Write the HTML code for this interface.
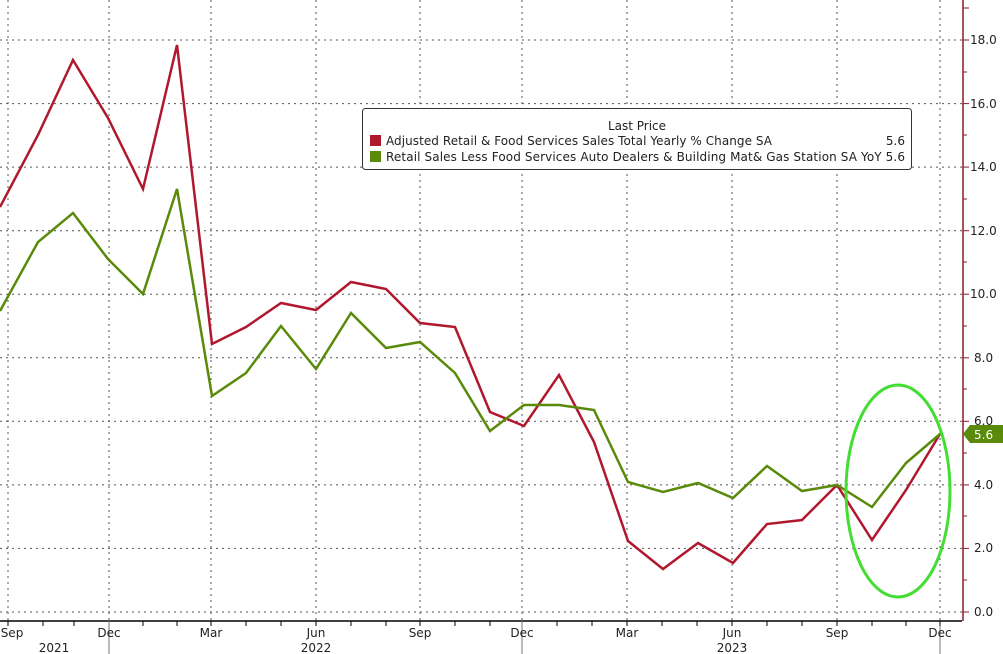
<!DOCTYPE html>
<html><head><style>
body{margin:0;background:#fff;}
svg{display:block;font-family:"DejaVu Sans","Liberation Sans",sans-serif;}
</style></head><body>
<svg width="1003" height="654" viewBox="0 0 1003 654" xmlns="http://www.w3.org/2000/svg">
<rect width="1003" height="654" fill="#fff"/>
<g stroke="#555" stroke-width="1" stroke-dasharray="2,4">
<line x1="0" x2="962" y1="612" y2="612"/>
<line x1="0" x2="962" y1="548.4" y2="548.4"/>
<line x1="0" x2="962" y1="484.9" y2="484.9"/>
<line x1="0" x2="962" y1="421.3" y2="421.3"/>
<line x1="0" x2="962" y1="357.8" y2="357.8"/>
<line x1="0" x2="962" y1="294.2" y2="294.2"/>
<line x1="0" x2="962" y1="230.7" y2="230.7"/>
<line x1="0" x2="962" y1="167.1" y2="167.1"/>
<line x1="0" x2="962" y1="103.6" y2="103.6"/>
<line x1="0" x2="962" y1="40" y2="40"/>
<line x1="8" x2="8" y1="0" y2="621"/>
<line x1="109" x2="109" y1="0" y2="621"/>
<line x1="211" x2="211" y1="0" y2="621"/>
<line x1="316" x2="316" y1="0" y2="621"/>
<line x1="420" x2="420" y1="0" y2="621"/>
<line x1="522" x2="522" y1="0" y2="621"/>
<line x1="627" x2="627" y1="0" y2="621"/>
<line x1="732" x2="732" y1="0" y2="621"/>
<line x1="837" x2="837" y1="0" y2="621"/>
<line x1="940" x2="940" y1="0" y2="621"/>
</g>
<line x1="0" x2="962" y1="621" y2="621" stroke="#000" stroke-width="1.5"/>
<g stroke="#000" stroke-width="1">
<line x1="8" x2="8" y1="621" y2="626"/><line x1="43" x2="43" y1="621" y2="626"/><line x1="74" x2="74" y1="621" y2="626"/>
<line x1="109" x2="109" y1="621" y2="654" stroke="#777"/><line x1="143" x2="143" y1="621" y2="626"/><line x1="177" x2="177" y1="621" y2="626"/>
<line x1="211" x2="211" y1="621" y2="626"/><line x1="246" x2="246" y1="621" y2="626"/><line x1="281" x2="281" y1="621" y2="626"/>
<line x1="316" x2="316" y1="621" y2="626"/><line x1="351" x2="351" y1="621" y2="626"/><line x1="386" x2="386" y1="621" y2="626"/>
<line x1="420" x2="420" y1="621" y2="626"/><line x1="455" x2="455" y1="621" y2="626"/><line x1="490" x2="490" y1="621" y2="626"/>
<line x1="522" x2="522" y1="621" y2="654" stroke="#777"/><line x1="557" x2="557" y1="621" y2="626"/><line x1="592" x2="592" y1="621" y2="626"/>
<line x1="627" x2="627" y1="621" y2="626"/><line x1="662" x2="662" y1="621" y2="626"/><line x1="697" x2="697" y1="621" y2="626"/>
<line x1="732" x2="732" y1="621" y2="626"/><line x1="767" x2="767" y1="621" y2="626"/><line x1="802" x2="802" y1="621" y2="626"/>
<line x1="837" x2="837" y1="621" y2="626"/><line x1="872" x2="872" y1="621" y2="626"/><line x1="906" x2="906" y1="621" y2="626"/>
<line x1="940" x2="940" y1="621" y2="626"/>
<line x1="940" x2="940" y1="626" y2="654" stroke="#777"/>
</g>
<g font-size="12" fill="#222" text-anchor="middle">
<text x="12" y="637">Sep</text><text x="109" y="637">Dec</text><text x="211" y="637">Mar</text>
<text x="316" y="637">Jun</text><text x="420" y="637">Sep</text><text x="522" y="637">Dec</text>
<text x="627" y="637">Mar</text><text x="732" y="637">Jun</text><text x="837" y="637">Sep</text><text x="940" y="637">Dec</text>
<text x="54" y="652">2021</text><text x="316" y="652">2022</text><text x="732" y="652">2023</text>
</g>
<line x1="963" x2="963" y1="0" y2="621" stroke="#8b1a2b" stroke-width="1.5"/>
<g stroke="#8b1a2b" stroke-width="1">
<line x1="963" x2="969" y1="612" y2="612"/><line x1="963" x2="969" y1="548.4" y2="548.4"/><line x1="963" x2="969" y1="484.9" y2="484.9"/>
<line x1="963" x2="969" y1="421.3" y2="421.3"/><line x1="963" x2="969" y1="357.8" y2="357.8"/><line x1="963" x2="969" y1="294.2" y2="294.2"/>
<line x1="963" x2="969" y1="230.7" y2="230.7"/><line x1="963" x2="969" y1="167.1" y2="167.1"/><line x1="963" x2="969" y1="103.6" y2="103.6"/>
<line x1="963" x2="969" y1="40" y2="40"/><line x1="963" x2="969" y1="8" y2="8"/>
<line x1="963" x2="967" y1="580" y2="580"/><line x1="963" x2="967" y1="516" y2="516"/><line x1="963" x2="967" y1="453" y2="453"/>
<line x1="963" x2="967" y1="389" y2="389"/><line x1="963" x2="967" y1="326" y2="326"/><line x1="963" x2="967" y1="262" y2="262"/>
<line x1="963" x2="967" y1="199" y2="199"/><line x1="963" x2="967" y1="135" y2="135"/><line x1="963" x2="967" y1="72" y2="72"/>
</g>
<g font-size="12" fill="#222">
<text x="974" y="616">0.0</text><text x="974" y="552">2.0</text><text x="974" y="489">4.0</text>
<text x="974" y="425">6.0</text><text x="974" y="362">8.0</text><text x="970" y="298">10.0</text>
<text x="970" y="235">12.0</text><text x="970" y="171">14.0</text><text x="970" y="108">16.0</text><text x="970" y="44">18.0</text>
</g>
<polygon points="963,434 970,425 1003,425 1003,443 970,443" fill="#5a8a0a"/>
<text x="974" y="439" font-size="12" fill="#fff">5.6</text>
<polyline fill="none" stroke="#b0182e" stroke-width="2.5" points="0,207 38,135 73,60 108,118 143,189 177,45 212,344 246,327 281,303 316,310 351,282 386,289 420,323 455,327 490,412 524,426 559,375 594,442 628,541 663,569 698,543 733,563 767,524 802,520 837,485 872,540 906,490 940,434"/>
<polyline fill="none" stroke="#5a8a0a" stroke-width="2.5" points="0,311 38,242 73,213 108,259 143,294 177,189 212,396 246,373 281,326 316,369 351,313 386,348 420,342 455,373 490,431 524,405 559,405 594,410 628,482 663,492 698,483 733,498 767,466 802,491 837,485 872,507 906,463 940,434"/>
<ellipse cx="898" cy="491" rx="52" ry="106" fill="none" stroke="#44dd33" stroke-width="3"/>
<rect x="362.5" y="108.5" width="549" height="61" rx="3" fill="#fff" stroke="#333"/>
<g font-size="12" fill="#222">
<text x="637" y="130" text-anchor="middle">Last Price</text>
<rect x="370" y="135" width="11" height="11" fill="#b0182e"/>
<text x="386" y="145" textLength="386" lengthAdjust="spacing">Adjusted Retail &amp; Food Services Sales Total Yearly % Change SA</text>
<text x="905" y="145" text-anchor="end">5.6</text>
<rect x="370" y="151" width="11" height="11" fill="#5a8a0a"/>
<text x="386" y="161" textLength="519" lengthAdjust="spacing">Retail Sales Less Food Services Auto Dealers &amp; Building Mat&amp; Gas Station SA YoY 5.6</text>
</g>
</svg>
</body></html>
